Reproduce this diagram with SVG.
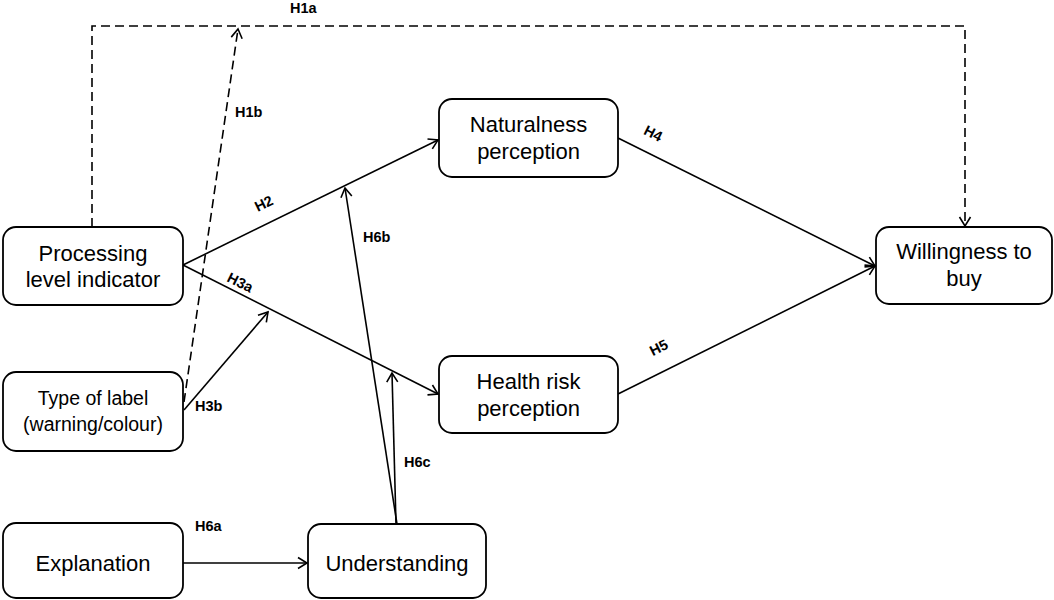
<svg xmlns="http://www.w3.org/2000/svg" width="1054" height="600" viewBox="0 0 1054 600">
<style>
.box{fill:#fff;stroke:#000;stroke-width:1.8}
.nt{font-family:"Liberation Sans",Arial,sans-serif;font-size:22px;fill:#000;text-anchor:middle}
.st{font-family:"Liberation Sans",Arial,sans-serif;font-size:19.5px;fill:#000;text-anchor:middle}
.lb{font-family:"Liberation Sans",Arial,sans-serif;font-size:14.5px;font-weight:bold;fill:#000}
.ln{fill:none;stroke:#000;stroke-width:1.6;marker-end:url(#arr)}
.dl{fill:none;stroke:#000;stroke-width:1.6;stroke-dasharray:9 5;marker-end:url(#arr)}
</style>
<defs>
<marker id="arr" markerUnits="userSpaceOnUse" markerWidth="14" markerHeight="14" viewBox="0 0 14 14" refX="12" refY="7" orient="auto">
<path d="M3,1.5 L12,7 L3,12.5" fill="none" stroke="#000" stroke-width="1.6"/>
</marker>
</defs>
<rect width="1054" height="600" fill="#fff"/>
<g id="connectors">
<path class="dl" d="M92,227 V26 H965 V226"/>
<path class="dl" d="M184,402 L238,29"/>
<path class="ln" d="M183,265 L438,140"/>
<path class="ln" d="M183,265 L438,394"/>
<path class="ln" d="M184,410 L268,312"/>
<path class="ln" d="M618,138 L875,266"/>
<path class="ln" d="M618,394 L875,266"/>
<path class="ln" d="M183,563 L307,563"/>
<path class="ln" d="M397,524 L345,188"/>
<path class="ln" d="M396,524 L392,373"/>
<text class="lb" x="290" y="13">H1a</text>
<text class="lb" x="235" y="117">H1b</text>
<text class="lb" text-anchor="middle" transform="translate(266,208) rotate(-26)">H2</text>
<text class="lb" text-anchor="middle" transform="translate(238,287) rotate(26.5)">H3a</text>
<text class="lb" x="195" y="411">H3b</text>
<text class="lb" text-anchor="middle" transform="translate(651,138) rotate(26.5)">H4</text>
<text class="lb" text-anchor="middle" transform="translate(661,352) rotate(-26.5)">H5</text>
<text class="lb" x="195" y="531">H6a</text>
<text class="lb" x="363" y="242">H6b</text>
<text class="lb" x="404" y="467">H6c</text>
</g>
<g id="processing">
<rect class="box" x="3" y="227" width="180" height="78" rx="13"/>
<text class="nt" x="93" y="261">Processing</text>
<text class="nt" x="93" y="287">level indicator</text>
</g>
<g id="typeoflabel">
<rect class="box" x="3" y="372" width="180" height="79" rx="13"/>
<text class="st" x="93" y="405">Type of label</text>
<text class="st" x="93" y="431">(warning/colour)</text>
</g>
<g id="explanation">
<rect class="box" x="3" y="523" width="180" height="75" rx="13"/>
<text class="nt" x="93" y="571">Explanation</text>
</g>
<g id="understanding">
<rect class="box" x="308" y="524" width="178" height="74" rx="13"/>
<text class="nt" x="397" y="571">Understanding</text>
</g>
<g id="naturalness">
<rect class="box" x="439" y="99" width="179" height="78" rx="13"/>
<text class="nt" x="528.5" y="132">Naturalness</text>
<text class="nt" x="528.5" y="159">perception</text>
</g>
<g id="healthrisk">
<rect class="box" x="439" y="356" width="179" height="77" rx="13"/>
<text class="nt" x="528.5" y="389">Health risk</text>
<text class="nt" x="528.5" y="416">perception</text>
</g>
<g id="willingness">
<rect class="box" x="876" y="227" width="176" height="77" rx="13"/>
<text class="nt" x="964" y="259">Willingness to</text>
<text class="nt" x="964" y="286">buy</text>
</g>
</svg>
